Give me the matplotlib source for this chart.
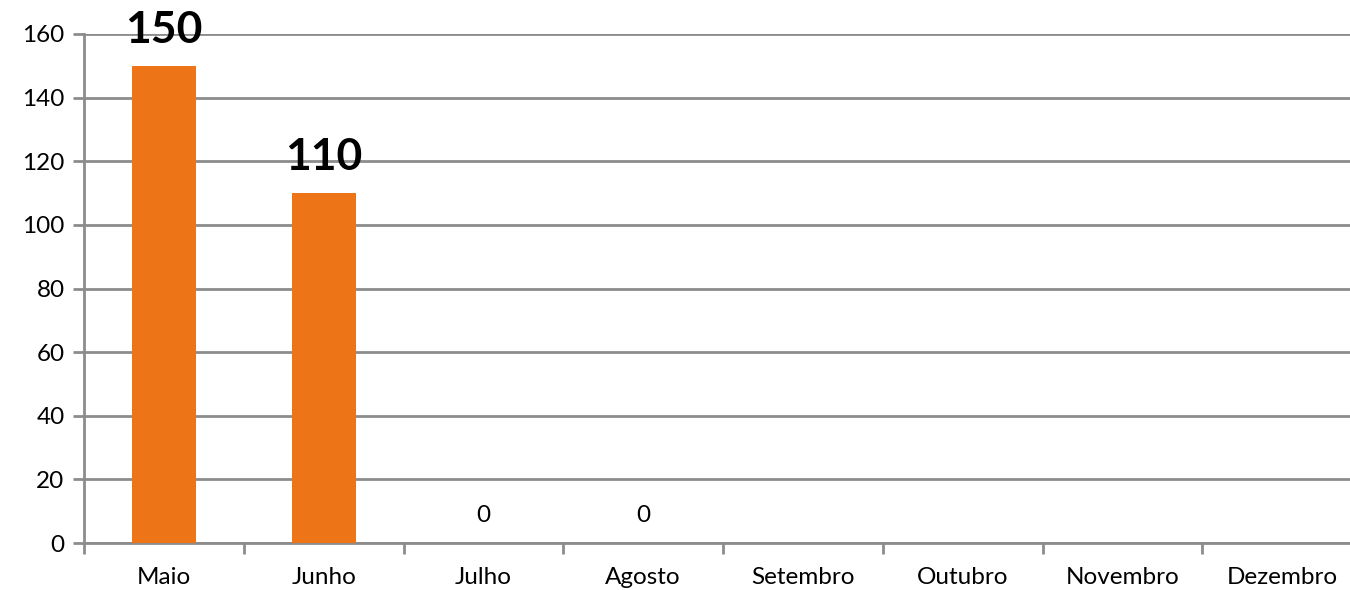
import numpy as np
import matplotlib
matplotlib.use("Agg")
import matplotlib.pyplot as plt
from matplotlib.ticker import FixedLocator

plt.rcParams['font.family'] = ['Lato', 'DejaVu Sans']

months = ["Maio", "Junho", "Julho", "Agosto", "Setembro", "Outubro", "Novembro", "Dezembro"]
values = [150, 110, 0, 0, np.nan, np.nan, np.nan, np.nan]
y_ticks = [0, 20, 40, 60, 80, 100, 120, 140, 160]

W, H = 1350, 590
fig = plt.figure(figsize=(W / 100, H / 100), dpi=100)
ax = fig.add_axes([84 / W, (H - 543) / H, (1362 - 84) / W, (543 - 34) / H])

bar_color = "#ED7518"
grid_color = "#8C8C8C"

x = np.arange(len(months))
ax.bar(x, values, width=0.4, color=bar_color, zorder=3)

ax.set_xlim(-0.5, len(months) - 0.5)
ax.set_ylim(0, 160)
ax.set_yticks(y_ticks)
ax.yaxis.grid(True, color=grid_color, linewidth=2, zorder=0)

for s in ["top", "right"]:
    ax.spines[s].set_visible(False)
for s in ["left", "bottom"]:
    ax.spines[s].set_color(grid_color)
    ax.spines[s].set_linewidth(2)

ax.tick_params(axis="y", length=8, width=2, color=grid_color, labelsize=17.5, pad=6)
ax.set_xticks(x)
ax.set_xticklabels(months)
ax.tick_params(axis="x", which="major", length=0, labelsize=17.5, pad=17)
ax.xaxis.set_minor_locator(FixedLocator(np.arange(-0.5, len(months) + 0.5, 1.0)))
ax.tick_params(axis="x", which="minor", length=8, width=2, color=grid_color)

for xi, v in zip(x, values):
    if np.isnan(v):
        continue
    if v > 0:
        ax.annotate(f"{v:g}", (xi, v), xytext=(0, 11.5), textcoords="offset points",
                    ha="center", va="bottom", fontsize=32, fontweight="bold", color="black")
    else:
        ax.annotate(f"{v:g}", (xi, v), xytext=(0, 12), textcoords="offset points",
                    ha="center", va="bottom", fontsize=17.5, color="black")

fig.savefig("out.png", dpi=100)
